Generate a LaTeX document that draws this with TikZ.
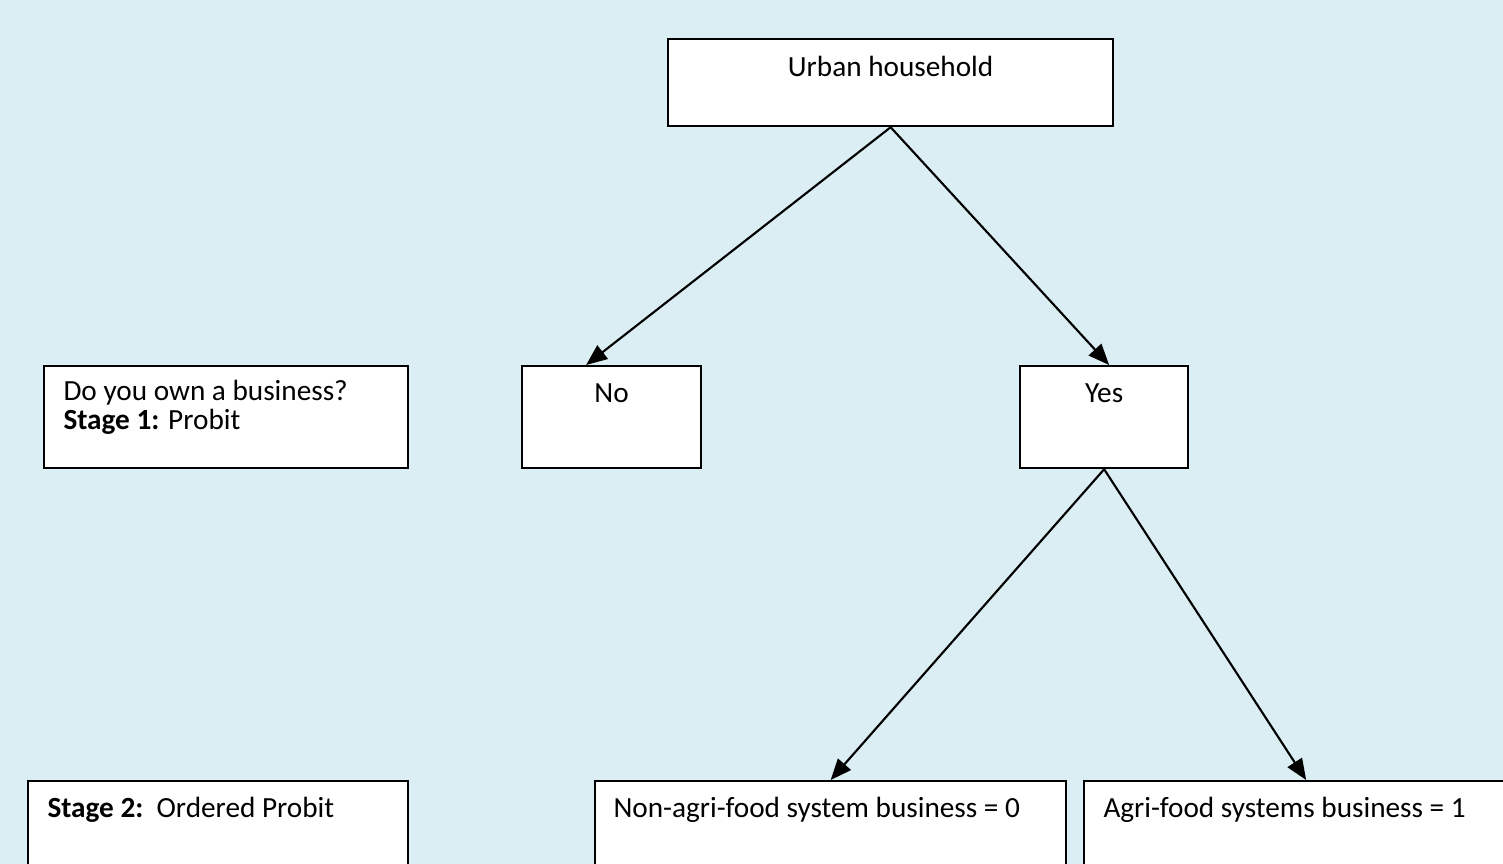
\documentclass[tikz,border=0pt]{standalone}
\usepackage{fontspec}
\setmainfont{Carlito}
\usetikzlibrary{arrows.meta}
\definecolor{bgblue}{HTML}{DAEEF3}
\tikzset{box/.style={draw, line width=0.9pt, fill=white, anchor=north west, inner sep=0pt}}
\tikzset{txt/.style={font=\fontsize{11.7}{10.8}\selectfont, inner sep=0pt}}
\tikzset{arrow/.style={-{Triangle[length=8.4pt, width=6.8pt]}, line width=0.85pt}}

\begin{document}
\begin{tikzpicture}[x=0.4pt, y=-0.4pt]
  \useasboundingbox (0,0) rectangle (1503,864);
  \clip (0,0) rectangle (1503,864);
  \fill[bgblue] (0,0) rectangle (1503,864);

  % boxes
  \node[box, minimum width=178pt, minimum height=34.8pt] (urban) at (667,38) {};
  \node[box, minimum width=145.6pt, minimum height=40.8pt] (stage1) at (43,365) {};
  \node[box, minimum width=71.6pt, minimum height=40.8pt] (no) at (521,365) {};
  \node[box, minimum width=67.2pt, minimum height=40.8pt] (yes) at (1019,365) {};
  \node[box, minimum width=152pt, minimum height=48pt] (stage2) at (27,780) {};
  \node[box, minimum width=188.4pt, minimum height=48pt] (nonagri) at (594,780) {};
  \node[box, minimum width=177.6pt, minimum height=48pt] (agri) at (1083,780) {};

  % texts
  \node[txt, anchor=base] (urban-t) at ([yshift=-15.4pt]urban.north) {Urban household};
  \node[txt, anchor=base] (no-t) at ([yshift=-15pt]no.north) {No};
  \node[txt, anchor=base] (yes-t) at ([yshift=-15pt]yes.north) {Yes};
  \node[txt, anchor=base west] (stage1-t1) at ([xshift=8pt, yshift=-14.2pt]stage1.north west) {Do you own a business?};
  \node[txt, anchor=base west] (stage1-t2) at ([xshift=8pt, yshift=-25.6pt]stage1.north west) {\textbf{Stage 1:} Probit};
  \node[txt, anchor=base west] (stage2-t) at ([xshift=8pt, yshift=-15pt]stage2.north west) {\textbf{Stage 2:}\ \ Ordered Probit};
  \node[txt, anchor=base west] (nonagri-t) at ([xshift=7.6pt, yshift=-15pt]nonagri.north west) {Non-agri-food system business = 0};
  \node[txt, anchor=base west] (agri-t) at ([xshift=8pt, yshift=-15pt]agri.north west) {Agri-food systems business = 1};

  % connectors
  \draw[arrow] (urban.south) -- ([xshift=-10.2pt]no.north);
  \draw[arrow] (urban.south) -- ([xshift=2pt]yes.north);
  \draw[arrow] (yes.south) -- (nonagri.north);
  \draw[arrow] (yes.south) -- (agri.north);
\end{tikzpicture}
\end{document}
